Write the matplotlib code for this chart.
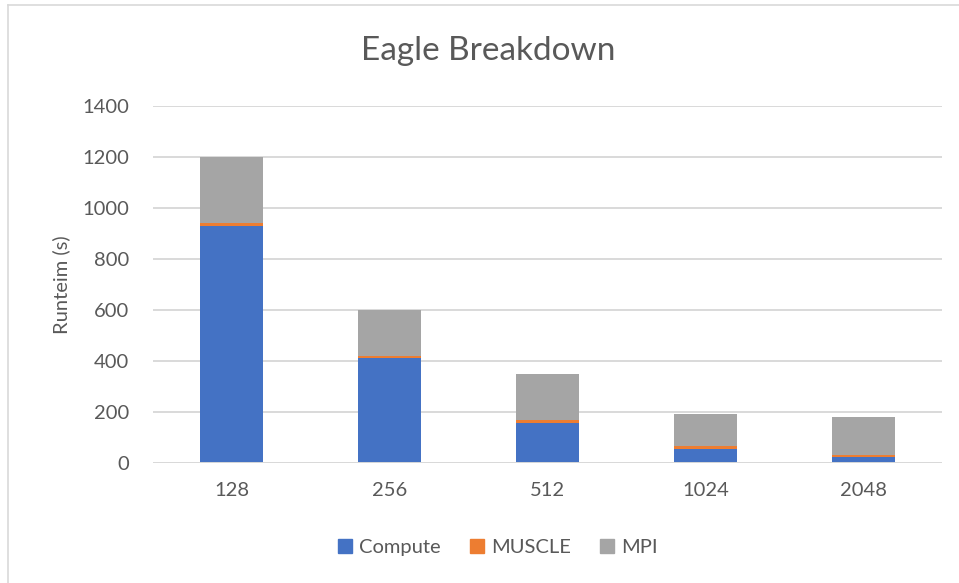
import matplotlib
matplotlib.use("Agg")
import matplotlib.pyplot as plt
from matplotlib.lines import Line2D
import numpy as np

categories = ["128", "256", "512", "1024", "2048"]
compute = [930, 410, 158, 56, 24]
muscle = [10, 10, 10, 9, 9]
mpi = [260, 180, 180, 126, 149]
yticks = [0, 200, 400, 600, 800, 1000, 1200, 1400]

series = [("Compute", compute, "#4472C4"),
          ("MUSCLE", muscle, "#ED7D31"),
          ("MPI", mpi, "#A5A5A5")]

text_color = "#595959"
plt.rcParams["font.family"] = ["Lato", "DejaVu Sans"]

W, H = 959, 583
fig = plt.figure(figsize=(W / 100, H / 100), dpi=100)
fig.patch.set_facecolor("white")

ax = fig.add_axes([153 / W, 1 - 463 / H, (942 - 153) / W, (463 - 106) / H])
x = np.arange(len(categories))
bottom = np.zeros(len(categories))
for name, vals, color in series:
    ax.bar(x, vals, width=0.4, bottom=bottom, color=color, label=name,
           edgecolor="none", linewidth=0, zorder=3)
    bottom += np.array(vals)

ax.set_xlim(-0.5, len(categories) - 0.5)
ax.set_ylim(0, 1400)
ax.set_yticks(yticks)
ax.set_yticklabels([str(t) for t in yticks])
ax.set_xticks(x)
ax.set_xticklabels(categories)
ax.tick_params(axis="both", length=0, labelsize=14.5, colors=text_color)
ax.tick_params(axis="y", pad=17)
ax.tick_params(axis="x", pad=14)
ax.grid(axis="y", color="#D9D9D9", linewidth=1.4, zorder=0)
for s in ax.spines.values():
    s.set_visible(False)
ax.axhline(0, color="#D9D9D9", linewidth=1.4, zorder=4)

ax.set_ylabel("Runteim (s)", fontsize=14.5, color=text_color, labelpad=9)

fig.text(488 / W, 1 - 51 / H, "Eagle Breakdown", ha="center", va="center",
         fontsize=24, color=text_color)

handles = [Line2D([], [], marker="s", linestyle="none", markersize=10,
                  markerfacecolor=c, markeredgecolor=c) for _, _, c in series]
fig.legend(handles, [n for n, _, _ in series], loc="center",
           bbox_to_anchor=(497 / W, 1 - 547 / H), ncol=3, frameon=False,
           fontsize=14.5, labelcolor=text_color, handletextpad=0.3,
           columnspacing=1.4, handlelength=0.8)

# chart frame edges
fig.add_artist(Line2D([8 / W, 8 / W], [0, 1 - 5 / H], color="#D9D9D9",
                      linewidth=1.2, transform=fig.transFigure))
fig.add_artist(Line2D([8 / W, 1], [1 - 5 / H, 1 - 5 / H], color="#D9D9D9",
                      linewidth=1.2, transform=fig.transFigure))

fig.savefig("out.png", dpi=100, facecolor="white")
